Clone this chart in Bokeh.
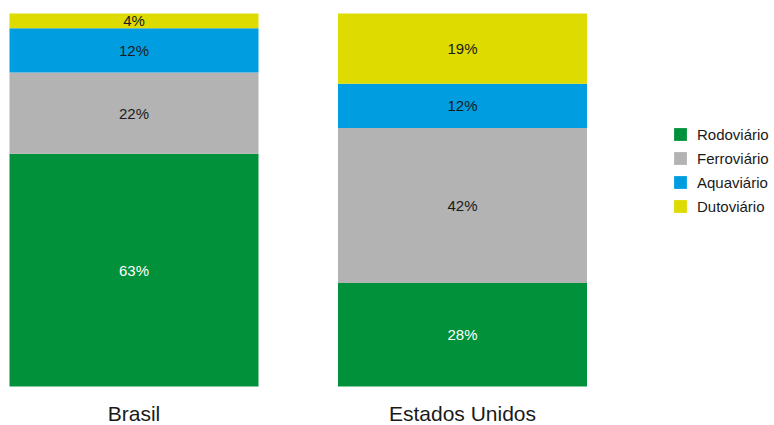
from bokeh.plotting import figure
from bokeh.models import ColumnDataSource, Range1d, Legend, LegendItem
from bokeh.core.properties import value
from bokeh.embed import file_html
from bokeh.resources import INLINE

categories = ["Brasil", "Estados Unidos"]
modes = ["Rodoviário", "Ferroviário", "Aquaviário", "Dutoviário"]
rodoviario = [63, 28]
ferroviario = [22, 42]
aquaviario = [12, 12]
dutoviario = [4, 19]
colors = ["#00913A", "#B3B3B3", "#009DE0", "#DEDB00"]
label_colors = ["#FFFFFF", "#1A1A1A", "#1A1A1A", "#1A1A1A"]

series = [rodoviario, ferroviario, aquaviario, dutoviario]
xs = list(range(len(categories)))

data = {"x": xs, "cat": categories}
for m, s in zip(modes, series):
    data[m] = s
source = ColumnDataSource(data)

p = figure(width=774, height=425, output_backend="svg", toolbar_location=None,
           x_range=Range1d(-0.4064, 1.9498), y_range=Range1d(-10.56, 104.52),
           min_border=0, outline_line_color=None)
p.axis.visible = False
p.grid.visible = False

renderers = p.vbar_stack(modes, x="x", width=0.758, color=colors, source=source,
                         line_color=None)

# percentage labels
lx, ly, lt, lc = [], [], [], []
for i in xs:
    base = 0
    for s, c in zip(series, label_colors):
        v = s[i]
        lx.append(i)
        ly.append(base + v / 2)
        lt.append(f"{v}%")
        lc.append(c)
        base += v
lsrc = ColumnDataSource(dict(x=lx, y=ly, t=lt, c=lc))
p.text(x="x", y="y", text="t", text_color="c", source=lsrc,
       text_align="center", text_baseline="middle",
       text_font=value("Liberation Sans"), text_font_size="15px")

# category labels
csrc = ColumnDataSource(dict(x=xs, y=[0] * len(xs), t=categories))
p.text(x="x", y="y", text="t", source=csrc, text_align="center",
       text_baseline="bottom", y_offset=38, text_color="#1A1A1A",
       text_font=value("Liberation Sans"), text_font_size="21px")

legend = Legend(items=[LegendItem(label=m, renderers=[r]) for m, r in zip(modes, renderers)],
                location=(672, 209), orientation="vertical",
                padding=0, margin=0, spacing=4, glyph_width=16, glyph_height=16,
                label_standoff=9, label_height=20,
                label_text_font="Liberation Sans", label_text_font_size="15px",
                label_text_color="#1A1A1A",
                border_line_color=None, background_fill_alpha=0)
p.add_layout(legend)

open("out.html", "w").write(file_html(p, INLINE))
